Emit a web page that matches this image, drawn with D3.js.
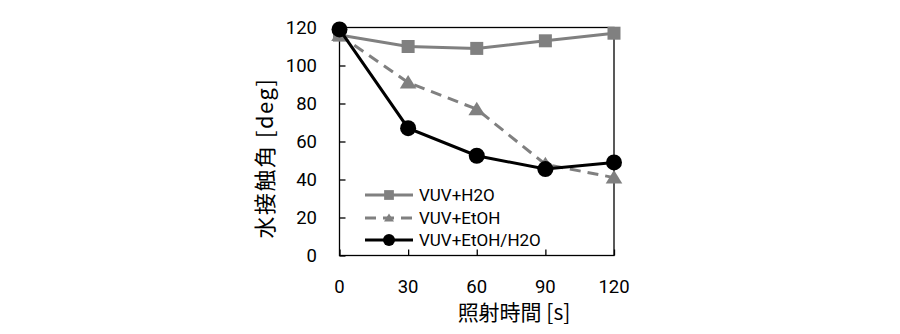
<!DOCTYPE html>
<html>
<head>
<meta charset="utf-8">
<script src="https://cdn.jsdelivr.net/npm/d3@7"></script>
<style>
  html, body { margin: 0; padding: 0; background: #fff; }
  svg text { font-family: Roboto, "Noto Sans CJK JP", sans-serif; fill: #000; }
  svg text.title { font-family: "Noto Sans CJK JP", Roboto, sans-serif; }
</style>
</head>
<body>
<svg id="chart" width="900" height="334"></svg>
<script>
// Irradiation time (s) and water contact angle (deg) for three treatments
const times = [0, 30, 60, 90, 120];
const seriesNames = ["VUV+H2O", "VUV+EtOH", "VUV+EtOH/H2O"];
const vuvH2O = [116, 110, 109, 113, 117];
const vuvEtOH = [116, 91, 77, 48, 41];
const vuvEtOHH2O = [119, 67, 52.5, 45.5, 49];
const yTicks = [0, 20, 40, 60, 80, 100, 120];
const xTicks = [0, 30, 60, 90, 120];

const svg = d3.select("#chart");
const plot = { left: 339.5, right: 614, top: 27.5, bottom: 255.5 };

const x = d3.scaleLinear().domain([0, 120]).range([plot.left, plot.right]);
const y = d3.scaleLinear().domain([0, 120]).range([plot.bottom, plot.top]);

// frame around the plot area
svg.append("rect")
  .attr("x", plot.left).attr("y", plot.top)
  .attr("width", plot.right - plot.left).attr("height", plot.bottom - plot.top)
  .attr("fill", "none").attr("stroke", "#000").attr("stroke-width", 1.3);

// inward tick marks
const yAxis = d3.axisRight(y).tickValues(yTicks).tickSize(6).tickFormat("");
svg.append("g").attr("transform", `translate(${plot.left},0)`).call(yAxis)
  .call(g => g.select(".domain").remove())
  .call(g => g.selectAll("line").attr("stroke", "#000").attr("stroke-width", 1.3));
const xAxis = d3.axisTop(x).tickValues(xTicks).tickSize(6).tickFormat("");
svg.append("g").attr("transform", `translate(0,${plot.bottom})`).call(xAxis)
  .call(g => g.select(".domain").remove())
  .call(g => g.selectAll("line").attr("stroke", "#000").attr("stroke-width", 1.3));

// tick labels
svg.append("g").selectAll("text").data(yTicks).join("text")
  .attr("x", 317).attr("y", d => y(d)).attr("dy", "0.36em")
  .attr("text-anchor", "end").attr("font-size", 18.5).text(d => d);
svg.append("g").selectAll("text").data(xTicks).join("text")
  .attr("x", d => x(d)).attr("y", 286).attr("dy", "0.36em")
  .attr("text-anchor", "middle").attr("font-size", 18.5).text(d => d);

// axis titles
svg.append("text").attr("class", "title").attr("x", 514).attr("y", 312).attr("dy", "0.36em")
  .attr("text-anchor", "middle").attr("font-size", 21).text("照射時間 [s]");
svg.append("text").attr("class", "title").attr("transform", "translate(265,158) rotate(-90)").attr("dy", "0.36em")
  .attr("text-anchor", "middle").attr("font-size", 22).attr("letter-spacing", 1.5).text("水接触角 [deg]");

const gray = "#808080";
const series = [
  { name: seriesNames[0], values: vuvH2O, color: gray, dash: null, marker: "square" },
  { name: seriesNames[1], values: vuvEtOH, color: gray, dash: "11,7", marker: "triangle" },
  { name: seriesNames[2], values: vuvEtOHH2O, color: "#000", dash: null, marker: "circle" }
];

const line = d3.line().x((d, i) => x(times[i])).y(d => y(d));

function drawMarker(g, type, cx, cy, color) {
  if (type === "square") {
    g.append("rect").attr("x", cx - 6.5).attr("y", cy - 6.5).attr("width", 13).attr("height", 13).attr("fill", color);
  } else if (type === "triangle") {
    g.append("path").attr("d", `M${cx},${cy - 7.5}L${cx + 8.3},${cy + 6}L${cx - 8.3},${cy + 6}Z`).attr("fill", color);
  } else {
    g.append("circle").attr("cx", cx).attr("cy", cy).attr("r", 8).attr("fill", color);
  }
}

series.forEach(s => {
  const g = svg.append("g");
  g.append("path").datum(s.values).attr("d", line)
    .attr("fill", "none").attr("stroke", s.color).attr("stroke-width", 3)
    .attr("stroke-dasharray", s.dash);
  s.values.forEach((v, i) => drawMarker(g, s.marker, x(times[i]), y(v), s.color));
});

// legend
const legendY = [195, 218, 240];
series.forEach((s, i) => {
  const g = svg.append("g");
  const ly = legendY[i];
  g.append("line").attr("x1", 365).attr("x2", 413).attr("y1", ly).attr("y2", ly)
    .attr("stroke", s.color).attr("stroke-width", 3).attr("stroke-dasharray", s.dash ? "11,7" : null);
  const small = { square: 0.75, triangle: 0.6, circle: 0.75 }[s.marker];
  const mg = g.append("g").attr("transform", `translate(389,${ly}) scale(${small})`);
  drawMarker(mg, s.marker, 0, 0, s.color);
  g.append("text").attr("x", 419).attr("y", ly).attr("dy", "0.36em")
    .attr("font-size", 17).text(s.name);
});
</script>
</body>
</html>
